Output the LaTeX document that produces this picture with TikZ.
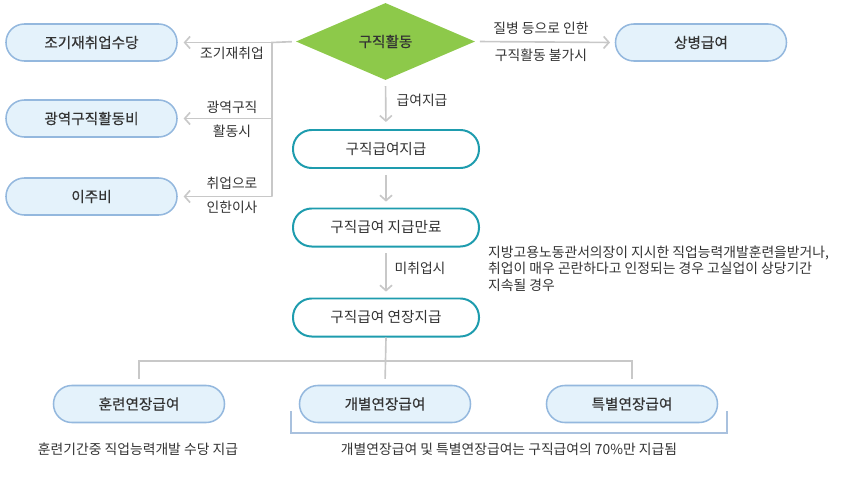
\documentclass[tikz,border=0pt]{standalone}
\usepackage{fontspec}
\setmainfont{Noto Sans CJK KR}
\newfontfamily\medfont{Noto Sans CJK KR}[FakeBold=0.35]
\usetikzlibrary{shapes.geometric,arrows.meta}
\definecolor{lineg}{HTML}{C8C8C8}
\definecolor{pillf}{HTML}{E4F2FB}
\definecolor{pilld}{HTML}{94B8DE}
\definecolor{tealb}{HTML}{1E9CAE}
\definecolor{leafg}{HTML}{8DC94A}
\definecolor{brk}{HTML}{A9C1DE}
\definecolor{txt}{HTML}{333333}

\begin{document}
\begin{tikzpicture}[
  x=0.03cm, y=-0.03cm, text=txt,
  pill/.style={draw=pilld,fill=pillf,line width=1.3pt,rounded corners=0.55cm,minimum width=5.13cm,minimum height=1.11cm,inner sep=0pt,font=\medfont\fontsize{12.5}{14}\selectfont},
  tpill/.style={draw=tealb,fill=white,line width=1.7pt,rounded corners=0.56cm,minimum width=5.58cm,minimum height=1.14cm,inner sep=0pt,font=\fontsize{12.5}{14}\selectfont},
  dia/.style={diamond,fill=leafg,aspect=2.3,minimum width=5.37cm,minimum height=2.31cm,inner sep=0pt,font=\medfont\fontsize{12.5}{14}\selectfont},
  link/.style={draw=lineg,line width=1.4pt},
  arr/.style={link,-{Straight Barb[length=1.6mm,width=3.6mm]}},
  lbl/.style={font=\fontsize{11.8}{14}\selectfont},
  baseline=(current bounding box.north)
]
  \useasboundingbox (0,0) rectangle (860,502);
  \node[pill] (b1) at (91.5,42.5) {조기재취업수당};
  \node[pill] (b2) at (91.5,118.5) {광역구직활동비};
  \node[pill] (b3) at (91.5,196.5) {이주비};
  \node[dia] (d0) at (385.5,41.5) {구직활동};
  \node[pill] (b4) at (701,42.5) {상병급여};
  \node[tpill] (t1) at (386,149) {구직급여지급};
  \node[tpill] (t2) at (386,227.5) {구직급여 지급만료};
  \node[tpill] (t3) at (386,317.5) {구직급여 연장지급};
  \node[pill] (c1) at (139,404) {훈련연장급여};
  \node[pill] (c2) at (385,404) {개별연장급여};
  \node[pill] (c3) at (632,404) {특별연장급여};
  \coordinate (jt) at (272,42.5);
  \coordinate (jb) at (272,196.5);
  \coordinate (h0) at (385,361);
  \draw[link, shorten <=3.4pt] (d0.west) -- (jt) -- (jb);
  \draw[arr, shorten >=5pt] (jt) -- (b1.east);
  \draw[arr, shorten >=5pt] (b2.east -| jt) -- (b2.east);
  \draw[arr, shorten >=5pt] (jb) -- (b3.east);
  \draw[arr, shorten <=4pt, shorten >=4pt] (d0.east) -- (b4.west);
  \draw[arr, shorten <=5pt, shorten >=6pt] (d0.south) -- (t1.north);
  \draw[arr, shorten <=5pt, shorten >=5pt] (t1.south) -- (t2.north);
  \draw[arr, shorten <=5pt, shorten >=5pt] (t2.south) -- (t3.north);
  \draw[link, shorten >=5pt] (t3.south) -- (c2.north);
  \draw[link, shorten <=5pt, shorten >=5pt] (c1.north) |- (h0) -| (c3.north);
  \draw[brk, line width=0.9pt] (291,411) |- (727,433) -- (727,411);
  \node[lbl] (l1) at (232,53) {조기재취업};
  \node[lbl, align=center, font=\fontsize{11.8}{20.4}\selectfont] (l2) at (232,119) {광역구직\\활동시};
  \node[lbl, align=center, font=\fontsize{11.8}{20.4}\selectfont] (l3) at (232,195.5) {취업으로\\인한이사};
  \node[lbl, align=center, font=\fontsize{11.8}{23}\selectfont] (l4) at (541,41.5) {질병 등으로 인한\\구직활동 불가시};
  \node[lbl] (l5) at (422,100) {급여지급};
  \node[lbl] (l6) at (420,268) {미취업시};
  \node[lbl, align=left, anchor=west, inner sep=0pt, font=\fontsize{11.8}{14}\selectfont] (n1) at (488,268.5) {지방고용노동관서의장이 지시한 직업능력개발훈련을받거나,\\취업이 매우 곤란하다고 인정되는 경우 고실업이 상당기간\\지속될 경우};
  \node[lbl] (n2) at (138,449) {훈련기간중 직업능력개발 수당 지급};
  \node[lbl] (n3) at (509,449) {개별연장급여 및 특별연장급여는 구직급여의 70\%만 지급됨};
\end{tikzpicture}
\end{document}
